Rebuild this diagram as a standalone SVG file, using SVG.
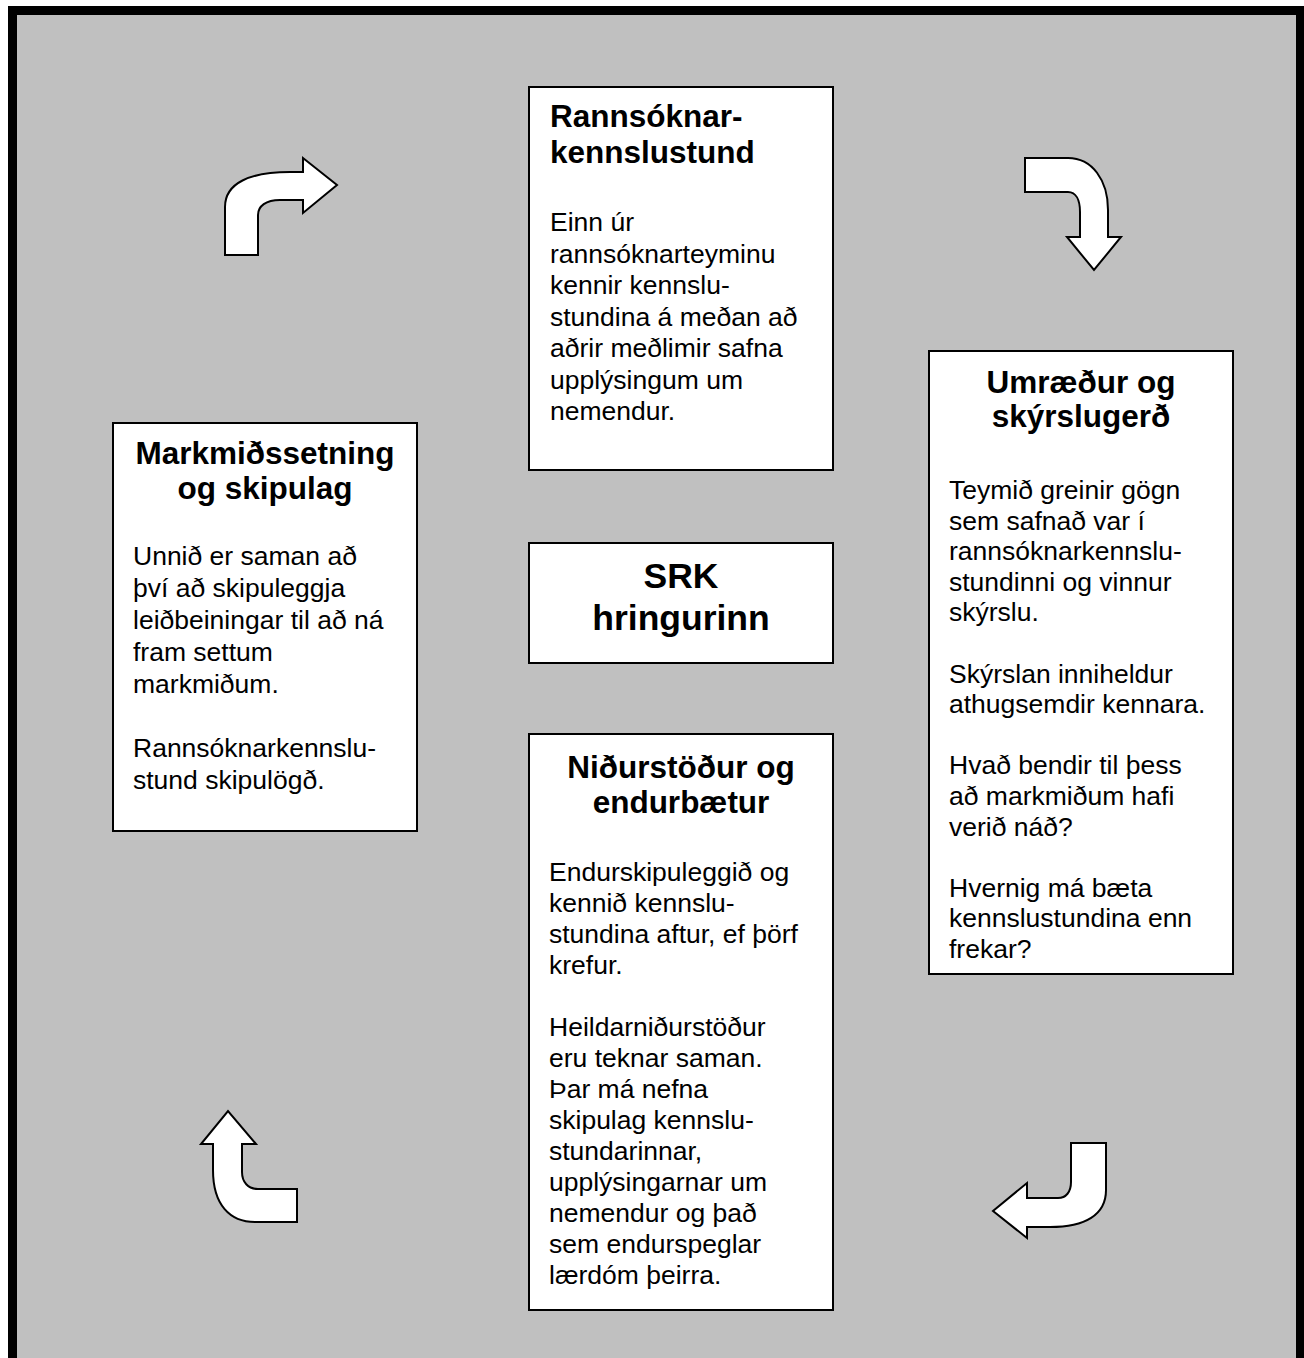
<svg xmlns="http://www.w3.org/2000/svg" width="1304" height="1358" viewBox="0 0 1304 1358">
<style>
.bg{fill:#c0c0c0;stroke:#000;stroke-width:9}
.box{fill:#fff;stroke:#000;stroke-width:2}
.arr{fill:#fff;stroke:#000;stroke-width:2;stroke-linejoin:miter}
.t{font-family:"Liberation Sans",Arial,sans-serif;font-weight:bold;font-size:31.5px;fill:#000}
.c{text-anchor:middle}
.big{font-family:"Liberation Sans",Arial,sans-serif;font-weight:bold;font-size:35.5px;fill:#000;text-anchor:middle}
.b{font-family:"Liberation Sans",Arial,sans-serif;font-size:26.5px;fill:#000}
</style>
<rect class="bg" x="12.5" y="10.5" width="1288" height="1400"/>
<g id="connectors">
<path class="arr" d="M225,255 L225,207 C225,183 250,172 290,172 L303,172 L303,158 L337,185 L303,213 L303,200 L280,200 C266,200 258,206 258,215 L258,255 Z"/>
<path class="arr" d="M1025,158 L1068,158 C1092,158 1108,180 1108,210 L1108,237 L1121,237 L1094,270 L1067,237 L1080,237 L1080,212 C1080,200 1076,192 1068,192 L1025,192 Z"/>
<path class="arr" d="M1071,1143 L1106,1143 L1106,1190 C1106,1215 1085,1227 1050,1227 L1027,1227 L1027,1238 L993,1211 L1027,1183 L1027,1198 L1058,1198 C1066,1198 1071,1192 1071,1182 Z"/>
<path class="arr" d="M213,1144 L213,1170 C213,1205 230,1222 255,1222 L297,1222 L297,1189 L258,1189 C248,1189 242,1182 242,1172 L242,1144 L256,1144 L228,1111 L201,1144 Z"/>
</g>
<g id="node-rannsokn">
<rect class="box" x="529" y="87" width="304" height="383"/>
<text class="t" x="550" y="127">Rannsóknar-</text>
<text class="t" x="550" y="163">kennslustund</text>
<text class="b" x="550"><tspan x="550" y="231">Einn úr</tspan><tspan x="550" y="262.5">rannsóknarteyminu</tspan><tspan x="550" y="294">kennir kennslu-</tspan><tspan x="550" y="325.5">stundina á meðan að</tspan><tspan x="550" y="357">aðrir meðlimir safna</tspan><tspan x="550" y="388.5">upplýsingum um</tspan><tspan x="550" y="420">nemendur.</tspan></text>
</g>
<g id="node-markmid">
<rect class="box" x="113" y="423" width="304" height="408"/>
<text class="t c" x="265" y="464">Markmiðssetning</text>
<text class="t c" x="265" y="499">og skipulag</text>
<text class="b"><tspan x="133" y="565">Unnið er saman að</tspan><tspan x="133" y="597">því að skipuleggja</tspan><tspan x="133" y="629">leiðbeiningar til að ná</tspan><tspan x="133" y="661">fram settum</tspan><tspan x="133" y="693">markmiðum.</tspan><tspan x="133" y="757">Rannsóknarkennslu-</tspan><tspan x="133" y="789">stund skipulögð.</tspan></text>
</g>
<g id="node-srk">
<rect class="box" x="529" y="543" width="304" height="120"/>
<text class="big" x="681" y="588">SRK</text>
<text class="big" x="681" y="630">hringurinn</text>
</g>
<g id="node-umraedur">
<rect class="box" x="929" y="351" width="304" height="623"/>
<text class="t c" x="1081" y="393">Umræður og</text>
<text class="t c" x="1081" y="427">skýrslugerð</text>
<text class="b"><tspan x="949" y="499">Teymið greinir gögn</tspan><tspan x="949" y="529.6">sem safnað var í</tspan><tspan x="949" y="560.2">rannsóknarkennslu-</tspan><tspan x="949" y="590.8">stundinni og vinnur</tspan><tspan x="949" y="621.4">skýrslu.</tspan><tspan x="949" y="682.6">Skýrslan inniheldur</tspan><tspan x="949" y="713.2">athugsemdir kennara.</tspan><tspan x="949" y="774.4">Hvað bendir til þess</tspan><tspan x="949" y="805">að markmiðum hafi</tspan><tspan x="949" y="835.6">verið náð?</tspan><tspan x="949" y="896.8">Hvernig má bæta</tspan><tspan x="949" y="927.4">kennslustundina enn</tspan><tspan x="949" y="958">frekar?</tspan></text>
</g>
<g id="node-nidurstodur">
<rect class="box" x="529" y="734" width="304" height="576"/>
<text class="t c" x="681" y="778">Niðurstöður og</text>
<text class="t c" x="681" y="813">endurbætur</text>
<text class="b"><tspan x="549" y="881">Endurskipuleggið og</tspan><tspan x="549" y="912">kennið kennslu-</tspan><tspan x="549" y="943">stundina aftur, ef þörf</tspan><tspan x="549" y="974">krefur.</tspan><tspan x="549" y="1036">Heildarniðurstöður</tspan><tspan x="549" y="1067">eru teknar saman.</tspan><tspan x="549" y="1098">Þar má nefna</tspan><tspan x="549" y="1129">skipulag kennslu-</tspan><tspan x="549" y="1160">stundarinnar,</tspan><tspan x="549" y="1191">upplýsingarnar um</tspan><tspan x="549" y="1222">nemendur og það</tspan><tspan x="549" y="1253">sem endurspeglar</tspan><tspan x="549" y="1284">lærdóm þeirra.</tspan></text>
</g>
</svg>
